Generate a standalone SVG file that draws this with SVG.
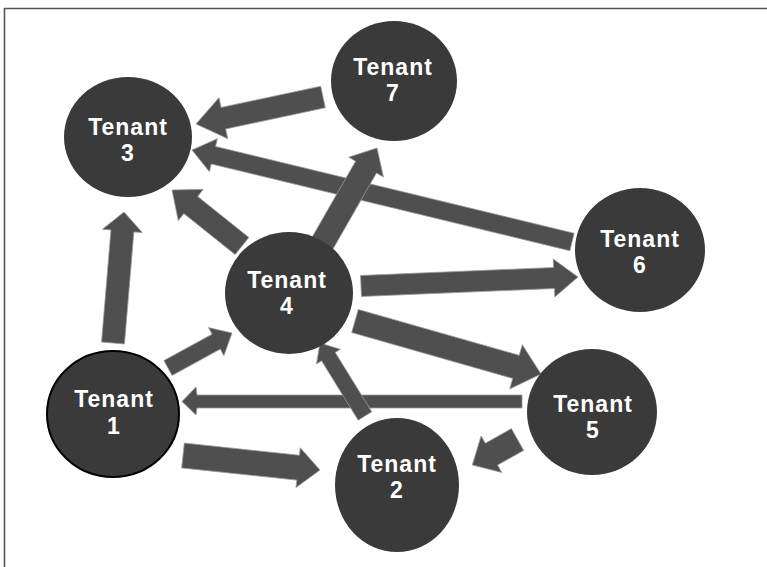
<svg xmlns="http://www.w3.org/2000/svg" width="767" height="567" viewBox="0 0 767 567">
<style>
.node{fill:#3a3a3a;}
.n1{stroke:#000;stroke-width:2;}
.arr{fill:#4f4f4f;stroke:#9a9a9a;stroke-width:0.8;stroke-linejoin:miter;}
.lbl{font-family:"Liberation Sans",Arial,sans-serif;font-weight:bold;font-size:23px;letter-spacing:1px;fill:#fff;text-anchor:middle;}
.frame{fill:none;stroke:#555;stroke-width:1.6;}
</style>
<rect width="767" height="567" fill="#fff"/>
<polyline class="frame" points="4.5,567 4.5,8.5 767,8.5"/>
<g id="connectors">
<polygon class="arr" points="320.71,86.24 221.11,107.42 219.03,97.63 196,124 227.77,138.73 225.69,128.94 325.29,107.76"/>
<polygon class="arr" points="574.12,233.25 215.50,146.43 217.38,138.66 192,150 209.38,171.70 211.26,163.93 569.88,250.75"/>
<polygon class="arr" points="248.87,237.41 197.61,196.40 203.23,189.37 172,190 178.25,220.61 183.87,213.58 235.13,254.59"/>
<polygon class="arr" points="332.41,249.97 376.47,173.06 383.41,177.03 377,148 348.71,157.15 355.65,161.13 311.59,238.04"/>
<polygon class="arr" points="124.46,343.96 133.87,231.89 142.34,232.60 124,212 102.48,229.26 110.95,229.97 101.54,342.04"/>
<polygon class="arr" points="172.08,375.46 220.29,349.10 223.89,355.68 232,333 208.53,327.60 212.13,334.18 163.92,360.54"/>
<polygon class="arr" points="361.44,296.49 554.46,288.48 554.81,296.97 578,277 553.23,259.01 553.58,267.50 360.56,275.51"/>
<polygon class="arr" points="351.71,332.54 512.71,378.42 509.70,389.00 541,374 522.30,344.76 519.29,355.34 358.29,309.46"/>
<polygon class="arr" points="522,395 197,395 196,387 182,401.5 196,415 197,408 522,408"/>
<polygon class="arr" points="371.81,411.80 335.21,352.42 340.32,349.27 320,343 316.48,363.97 321.59,360.82 358.19,420.20"/>
<polygon class="arr" points="181.69,467.93 296.81,480.12 296.02,487.58 320,470 300.22,447.80 299.44,455.26 184.32,443.07"/>
<polygon class="arr" points="511.36,428.61 485.32,443.30 481.14,435.90 472.3,465 501.78,472.48 497.60,465.08 523.64,450.39"/>
</g>
<g id="tenant7"><ellipse class="node" cx="394" cy="81" rx="63" ry="60"/><text class="lbl" x="393" y="75">Tenant</text><text class="lbl" x="393" y="101">7</text></g>
<g id="tenant3"><ellipse class="node" cx="128" cy="137" rx="64" ry="60"/><text class="lbl" x="128" y="135">Tenant</text><text class="lbl" x="128" y="161">3</text></g>
<g id="tenant6"><ellipse class="node" cx="640" cy="250" rx="65" ry="62"/><text class="lbl" x="640" y="247">Tenant</text><text class="lbl" x="640" y="273">6</text></g>
<g id="tenant4"><ellipse class="node" cx="289" cy="293" rx="64" ry="61"/><text class="lbl" x="287" y="288">Tenant</text><text class="lbl" x="287" y="314">4</text></g>
<g id="tenant5"><ellipse class="node" cx="592" cy="412" rx="65" ry="63"/><text class="lbl" x="593" y="412">Tenant</text><text class="lbl" x="593" y="438">5</text></g>
<g id="tenant1"><ellipse class="node n1" cx="113" cy="414" rx="66" ry="63"/><text class="lbl" x="114" y="407">Tenant</text><text class="lbl" x="114" y="434">1</text></g>
<g id="tenant2"><ellipse class="node" cx="397" cy="485" rx="62" ry="67"/><text class="lbl" x="397" y="472">Tenant</text><text class="lbl" x="397" y="498">2</text></g>
</svg>
